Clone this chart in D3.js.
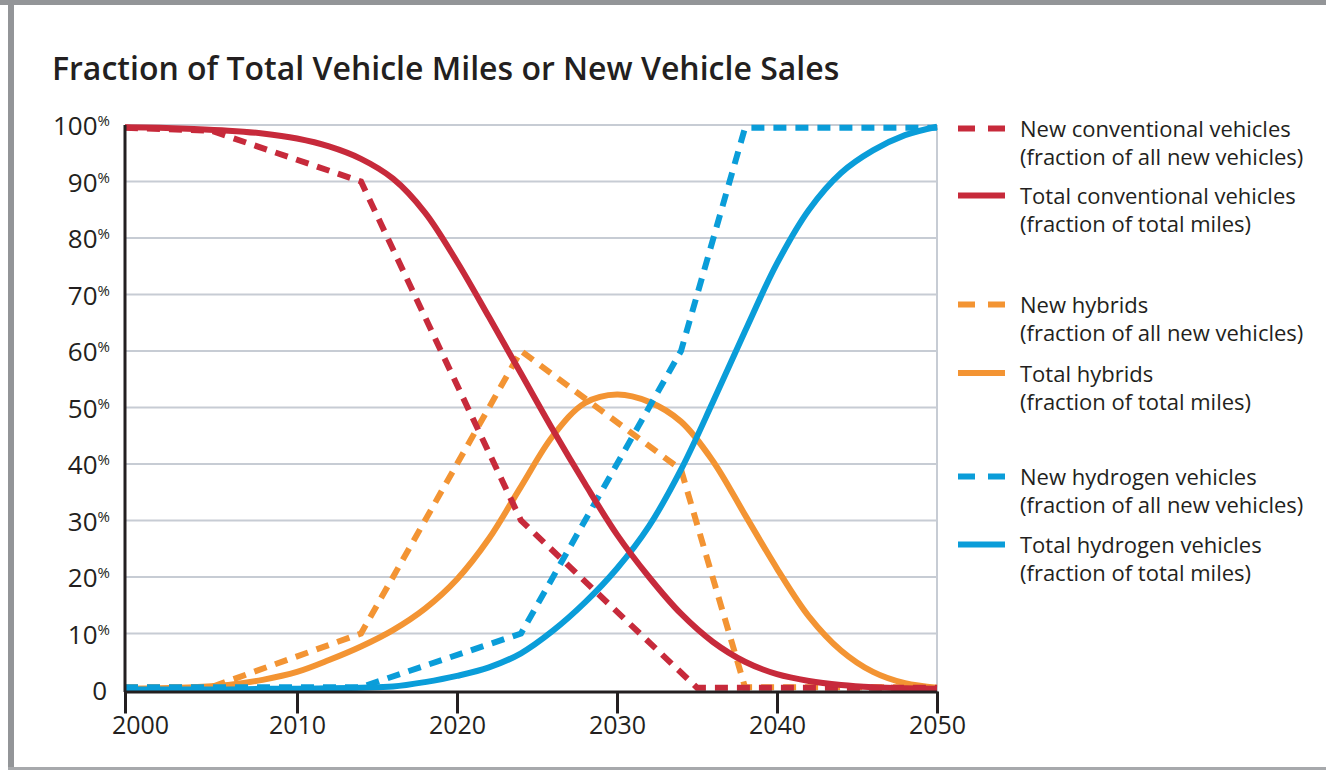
<!DOCTYPE html>
<html>
<head>
<meta charset="utf-8">
<script src="https://cdn.jsdelivr.net/npm/d3@7"></script>
<style>
  body { margin: 0; background: #fff; }
  svg { display: block; font-family: "Open Sans", "Noto Sans", sans-serif; }
  .grid line { stroke: #c7ccd4; stroke-width: 2; }
  .axis-x path, .axis-x line { stroke: #231f20; stroke-width: 3; }
  .axis-x text { font-size: 25px; fill: #231f20; }
  .legend text { font-size: 22px; fill: #231f20; }
</style>
</head>
<body>
<div id="chart"></div>
<script>
// values in percent
var totalYears = [2000, 2002, 2004, 2006, 2008, 2010, 2012, 2014, 2016, 2018, 2020, 2022, 2024,
                  2026, 2028, 2030, 2032, 2034, 2036, 2038, 2040, 2042, 2044, 2046, 2048, 2050];
var totalConventional = [99.6, 99.5, 99.3, 99, 98.5, 97.6, 96.2, 94, 90.5, 84.5, 75.8, 66, 56,
                         46, 36.5, 27.5, 20, 13.5, 8.5, 5, 2.8, 1.6, 0.9, 0.5, 0.3, 0.2];
var totalHybrids = [0.2, 0.3, 0.5, 0.9, 1.8, 3.2, 5.3, 7.7, 10.6, 14.4, 19.6, 26.8, 36,
                    45, 50.8, 52.3, 51, 47.5, 40.5, 31, 21.5, 13, 7, 3.2, 1.2, 0.4];
var totalHydrogen = [0.1, 0.1, 0.1, 0.1, 0.2, 0.2, 0.3, 0.4, 0.6, 1.4, 2.5, 4, 6.5,
                     10.5, 15.5, 21.5, 29, 39, 51, 63.5, 75.5, 85, 91.5, 95.5, 98.2, 99.7];

var newConvYears = [2000, 2005, 2014, 2024, 2035, 2050];
var newConventional = [99.5, 99, 90, 30, 0.4, 0.4];
var newHybYears = [2000, 2005, 2014, 2024, 2034, 2038, 2050];
var newHybrids = [0.5, 0.5, 10, 60, 39, 0.5, 0.5];
var newH2Years = [2000, 2014, 2024, 2034, 2038, 2050];
var newHydrogen = [0.5, 0.5, 10, 60, 99.5, 99.5];

var xTicks = [2000, 2010, 2020, 2030, 2040, 2050];
var yTicks = [0, 10, 20, 30, 40, 50, 60, 70, 80, 90, 100];

var legendLines = [
    ["New conventional vehicles", "(fraction of all new vehicles)"],
    ["Total conventional vehicles", "(fraction of total miles)"],
    ["New hybrids", "(fraction of all new vehicles)"],
    ["Total hybrids", "(fraction of total miles)"],
    ["New hydrogen vehicles", "(fraction of all new vehicles)"],
    ["Total hydrogen vehicles", "(fraction of total miles)"]
];

var red = "#c72a3b", orange = "#f39433", blue = "#0a9dd9";

var width = 1326, height = 770;

var svg = d3.select("#chart").append("svg")
    .attr("width", width)
    .attr("height", height);

// frame
svg.append("rect").attr("x", 0).attr("y", 0).attr("width", width).attr("height", 5).attr("fill", "#939598");
svg.append("rect").attr("x", 8).attr("y", 0).attr("width", 6).attr("height", height).attr("fill", "#939598");
svg.append("rect").attr("x", 8).attr("y", 767).attr("width", width).attr("height", 3).attr("fill", "#a7a9ac");

svg.append("text")
    .attr("x", 52)
    .attr("y", 80)
    .style("font-size", "32px")
    .style("font-weight", 600)
    .attr("fill", "#231f20")
    .text("Fraction of Total Vehicle Miles or New Vehicle Sales");

// the printed decades are not evenly spaced, so the scale is piecewise
var xScale = d3.scaleLinear()
    .domain([2000, 2010, 2050])
    .range([125, 297, 937]);

var yScale = d3.scaleLinear()
    .domain([0, 100])
    .range([690, 125]);

var grid = svg.append("g").attr("class", "grid");
grid.selectAll(".h").data(yTicks.filter(d => d > 0)).enter().append("line")
    .attr("x1", xScale(2000)).attr("x2", xScale(2050))
    .attr("y1", d => yScale(d)).attr("y2", d => yScale(d));
grid.append("line")
    .attr("x1", xScale(2050)).attr("x2", xScale(2050))
    .attr("y1", yScale(100)).attr("y2", yScale(0));

function series(years, values) {
    return years.map((yr, i) => ({ year: yr, value: values[i] }));
}

var smooth = d3.line()
    .x(d => xScale(d.year))
    .y(d => yScale(d.value))
    .curve(d3.curveCatmullRom.alpha(0.5));

var straight = d3.line()
    .x(d => xScale(d.year))
    .y(d => yScale(d.value));

var plot = svg.append("g");

var lines = [
    { data: series(newHybYears, newHybrids), color: orange, dashed: true },
    { data: series(totalYears, totalHybrids), color: orange, dashed: false },
    { data: series(newH2Years, newHydrogen), color: blue, dashed: true },
    { data: series(totalYears, totalHydrogen), color: blue, dashed: false },
    { data: series(newConvYears, newConventional), color: red, dashed: true },
    { data: series(totalYears, totalConventional), color: red, dashed: false }
];

plot.selectAll("path").data(lines).enter().append("path")
    .attr("d", d => d.dashed ? straight(d.data) : smooth(d.data))
    .attr("fill", "none")
    .attr("stroke", d => d.color)
    .attr("stroke-width", 6)
    .attr("stroke-dasharray", d => d.dashed ? "13,9" : null);

// axes
var xAxis = d3.axisBottom(xScale)
    .tickValues(xTicks)
    .tickSize(22)
    .tickSizeOuter(0)
    .tickPadding(3)
    .tickFormat(d3.format("d"));

var gx = svg.append("g")
    .attr("class", "axis-x")
    .attr("transform", "translate(0,691.5)")
    .call(xAxis)
    .attr("font-family", null)
    .attr("font-size", null);
gx.selectAll(".tick").filter(d => d === 2000).select("text").attr("dx", 15);

svg.append("line")
    .attr("x1", xScale(2000)).attr("x2", xScale(2000))
    .attr("y1", yScale(100)).attr("y2", 692)
    .attr("stroke", "#231f20")
    .attr("stroke-width", 3);

var yLabels = svg.append("g");
yLabels.selectAll("text").data(yTicks).enter().append("text")
    .attr("x", d => d === 0 ? 107 : 110)
    .attr("y", d => yScale(d) + 10)
    .attr("text-anchor", "end")
    .attr("fill", "#231f20")
    .style("font-size", "26px")
    .each(function(d) {
        var t = d3.select(this);
        t.append("tspan").text(d);
        if (d > 0) {
            t.append("tspan")
                .attr("dy", -9)
                .style("font-size", "15px")
                .text("%");
        }
    });

// legend
var legendY = [137, 204, 313, 381.5, 485, 553];
var legendColors = [red, red, orange, orange, blue, blue];

var legend = svg.append("g").attr("class", "legend");
var items = legend.selectAll("g").data(legendLines).enter().append("g")
    .attr("transform", (d, i) => `translate(0,${legendY[i]})`);

items.append("line")
    .attr("x1", 958).attr("x2", 1005)
    .attr("y1", -8.5).attr("y2", -8.5)
    .attr("stroke", (d, i) => legendColors[i])
    .attr("stroke-width", 6)
    .attr("stroke-dasharray", (d, i) => i % 2 === 0 ? "17,13" : null);

items.append("text")
    .attr("x", 1020)
    .attr("y", 0)
    .text(d => d[0]);
items.append("text")
    .attr("x", 1020)
    .attr("y", 28)
    .text(d => d[1]);
</script>
</body>
</html>
